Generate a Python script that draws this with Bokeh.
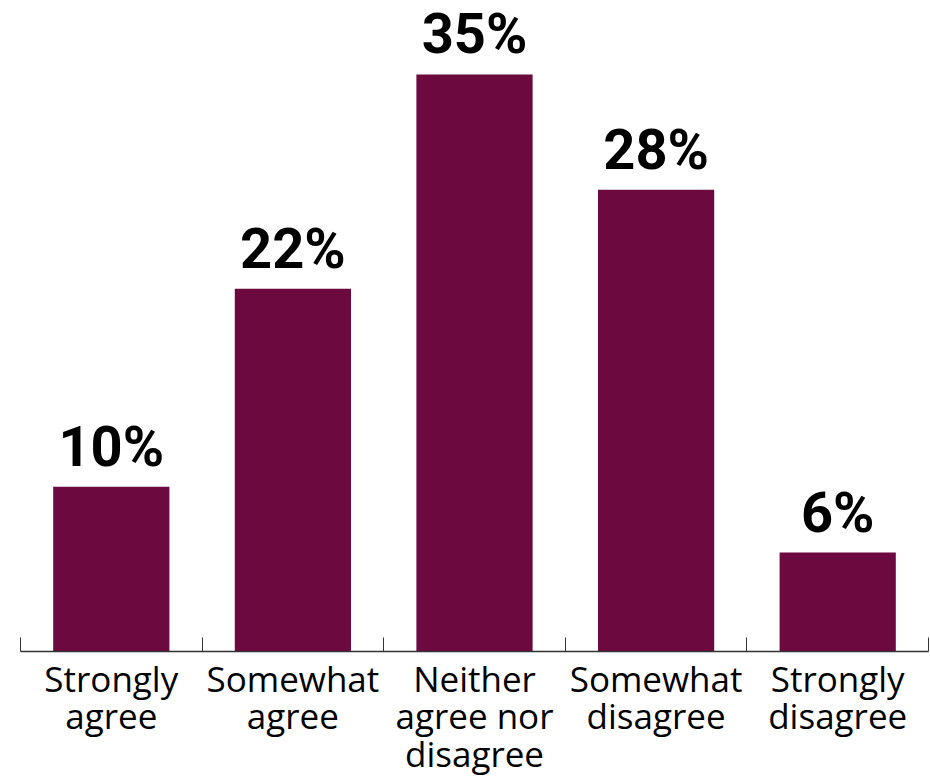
from bokeh.plotting import figure
from bokeh.models import ColumnDataSource, Range1d, FixedTicker, LabelSet
from bokeh.core.properties import value
from bokeh.embed import file_html
from bokeh.resources import INLINE

categories = ["Strongly\nagree", "Somewhat\nagree", "Neither\nagree nor\ndisagree",
              "Somewhat\ndisagree", "Strongly\ndisagree"]
values = [10, 22, 35, 28, 6]
labels = [f"{v}%" for v in values]

BAR = "#6C093E"
pos = [i + 0.5 for i in range(len(categories))]

src = ColumnDataSource(dict(x=pos, top=values, label=labels))

p = figure(frame_width=908, frame_height=643, output_backend="svg", toolbar_location=None,
           x_range=Range1d(0, len(categories)), y_range=Range1d(0, 39),
           min_border_left=20, min_border_right=2, min_border_top=8, min_border_bottom=0,
           y_axis_location=None)
p.outline_line_color = None
p.grid.visible = False
p.background_fill_color = "white"
p.border_fill_color = "white"

p.vbar(x="x", top="top", width=0.64, bottom=0, source=src, fill_color=BAR, line_color=None)

p.add_layout(LabelSet(x="x", y="top", text="label", source=src, text_align="center",
                      text_baseline="alphabetic", y_offset=21, text_font=value("Roboto"),
                      text_font_style="bold", text_font_size="56px", text_color="black"))

ax = p.xaxis[0]
ax.ticker = FixedTicker(ticks=pos, minor_ticks=list(range(len(categories) + 1)))
ax.major_label_overrides = {x: c for x, c in zip(pos, categories)}
ax.major_tick_line_color = None
ax.minor_tick_in = 14
ax.minor_tick_out = 0
ax.minor_tick_line_color = "#333333"
ax.axis_line_color = "#333333"
ax.axis_line_width = 1.5
ax.major_label_text_font = "Open Sans"
ax.major_label_text_font_size = "35px"
ax.major_label_text_color = "black"
ax.major_label_text_line_height = 0.8
ax.major_label_standoff = -3
ax.major_label_orientation = "horizontal"

open("out.html", "w").write(file_html(p, INLINE))
